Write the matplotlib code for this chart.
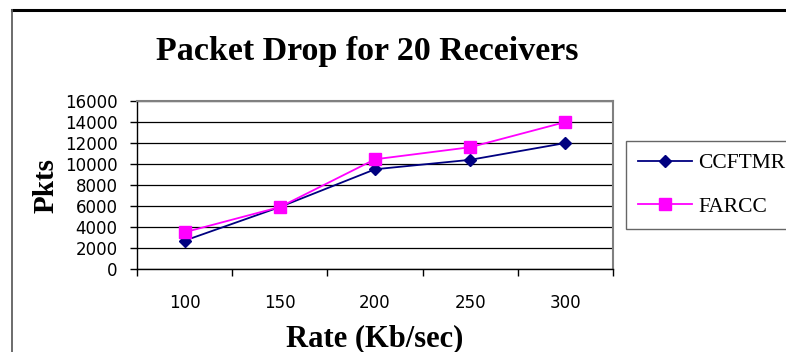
import numpy as np
import matplotlib

matplotlib.use("Agg")
import matplotlib.pyplot as plt
from matplotlib.lines import Line2D

# ── Data ────────────────────────────────────────────────────────
rates = ["100", "150", "200", "250", "300"]
ccftmr = [2700, 5900, 9500, 10400, 12000]
farcc = [3500, 5900, 10450, 11600, 14000]
y_ticks = list(range(0, 16001, 2000))

SERIF = "Liberation Serif"

fig = plt.figure(figsize=(7.86, 3.52), dpi=100)
ax = fig.add_axes([0.1743, 0.2358, 0.6057, 0.4772])

x = np.arange(len(rates))
ax.plot(x, ccftmr, color="#000080", marker="D", markersize=6, linewidth=1.3,
        label="CCFTMR")
ax.plot(x, farcc, color="#FF00FF", marker="s", markersize=9, linewidth=1.3,
        label="FARCC")

ax.set_xlim(-0.5, len(rates) - 0.5)
ax.set_ylim(0, 16000)
ax.set_yticks(y_ticks)
ax.set_yticklabels([str(v) for v in y_ticks], fontsize=12, family="DejaVu Sans")
ax.yaxis.grid(True, color="black", linewidth=0.9)
ax.set_axisbelow(True)

# category labels centred, tick marks at the boundaries
ax.set_xticks(x)
ax.set_xticklabels(rates, fontsize=12, family="DejaVu Sans")
ax.tick_params(axis="x", which="major", length=0, pad=18)
ax.set_xticks(np.arange(-0.5, len(rates)), minor=True)
ax.tick_params(axis="x", which="minor", length=5, width=1, direction="out")
ax.tick_params(axis="y", length=5, width=1, direction="out", pad=9)

for side in ("top", "right"):
    ax.spines[side].set_color("#808080")
    ax.spines[side].set_linewidth(1.5)
for side in ("left", "bottom"):
    ax.spines[side].set_color("black")
    ax.spines[side].set_linewidth(1)

ax.set_ylabel("Pkts", fontsize=21, fontweight="bold", family=SERIF, labelpad=4)
ax.set_xlabel("Rate (Kb/sec)", fontsize=22, fontweight="bold", family=SERIF,
              labelpad=9)
fig.text(0.467, 0.855, "Packet Drop for 20 Receivers", fontsize=24.5,
         fontweight="bold", family=SERIF, ha="center", va="center")

leg = ax.legend(loc="upper left", bbox_to_anchor=(1.027, 0.76),
                prop={"family": SERIF, "size": 15.5}, frameon=True,
                fancybox=False, edgecolor="#404040", borderpad=0.55,
                labelspacing=1.1, handlelength=2.5, handletextpad=0.3,
                borderaxespad=0)
leg.get_frame().set_linewidth(1)
for h in leg.legend_handles:
    h.set_markersize(6 if h.get_marker() == "D" else 8)

# outer chart frame
fig.add_artist(Line2D([0.0153, 1.0], [0.972, 0.972], color="black",
                      linewidth=2.2, transform=fig.transFigure))
fig.add_artist(Line2D([0.0153, 0.0153], [0.0, 0.972], color="#606060",
                      linewidth=1.3, transform=fig.transFigure))

plt.savefig("out.png", dpi=100)
plt.close()
